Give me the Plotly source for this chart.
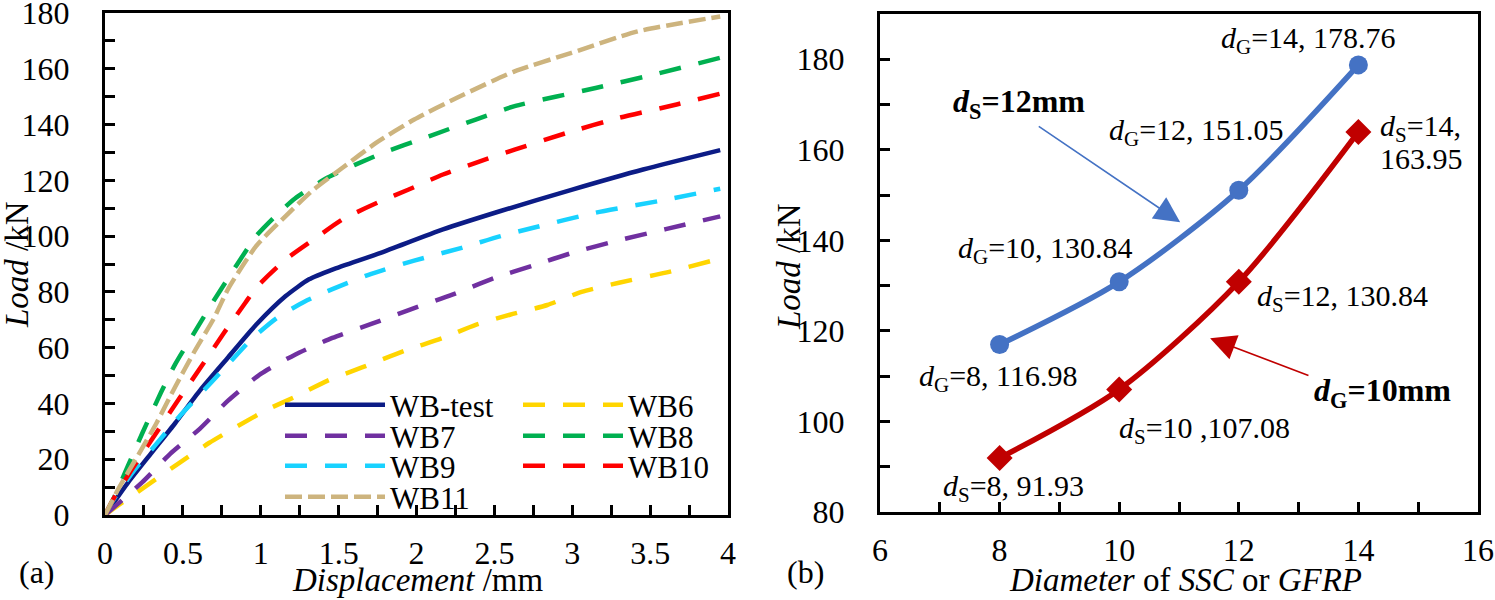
import plotly.graph_objects as go

# ---------------- data: panel (a) ----------------
wbtest_x = [0, 0.15, 0.30, 0.45, 0.61, 0.79, 0.97, 1.16, 1.31, 1.46, 1.77, 2.17, 2.54, 3.0, 3.455, 3.95]
wbtest_y = [0, 11.8, 22.4, 32.9, 44.7, 56.5, 68.2, 78.5, 84.5, 88.0, 94.0, 102.4, 109.0, 116.7, 123.9, 130.84]

wb6_x = [0, 0.086, 0.27, 0.48, 0.67, 0.85, 1.035, 1.22, 1.43, 1.65, 1.92, 2.17, 2.38, 2.6, 2.84, 3.06, 3.3, 3.6, 3.95]
wb6_y = [0, 3.5, 10.6, 18.8, 25.9, 31.8, 37.6, 42.4, 48.2, 52.9, 58.8, 63.5, 68.2, 71.8, 75.3, 80.0, 83.3, 86.9, 91.93]

wb7_x = [0, 0.24, 0.42, 0.61, 0.79, 1.0, 1.22, 1.46, 1.71, 1.95, 2.23, 2.5, 2.75, 3.0, 3.3, 3.6, 3.95]
wb7_y = [0, 11.8, 22.0, 31.0, 41.0, 50.6, 57.5, 63.5, 68.5, 73.5, 79.0, 85.0, 89.5, 94.0, 98.5, 102.5, 107.08]

wb8_x = [0, 0.055, 0.147, 0.24, 0.36, 0.45, 0.58, 0.70, 0.85, 0.97, 1.1, 1.22, 1.43, 1.77, 2.08, 2.38, 2.63, 3.15, 3.52, 3.95]
wb8_y = [0, 5.9, 17.6, 29.4, 44.0, 54.0, 66.0, 77.0, 90.0, 100.0, 107.5, 113.5, 121.0, 129.5, 135.8, 141.8, 146.6, 153.1, 157.9, 163.95]

wb9_x = [0, 0.055, 0.18, 0.33, 0.48, 0.64, 0.79, 0.94, 1.1, 1.28, 1.46, 1.71, 1.985, 2.29, 2.54, 2.75, 3.15, 3.55, 3.95]
wb9_y = [0, 5.5, 15.5, 25.5, 35.5, 45.0, 54.0, 63.0, 70.5, 76.5, 81.0, 86.5, 91.2, 95.8, 100.0, 103.0, 108.4, 112.5, 116.98]

wb10_x = [0, 0.055, 0.18, 0.33, 0.48, 0.64, 0.76, 0.9, 0.97, 1.16, 1.34, 1.525, 1.77, 1.95, 2.17, 2.38, 2.63, 2.965, 3.3, 3.67, 3.95]
wb10_y = [0, 5.9, 17.0, 29.5, 42.0, 55.0, 65.0, 76.0, 81.5, 91.6, 98.8, 106.0, 112.5, 116.7, 122.1, 126.3, 131.0, 137.0, 142.4, 147.2, 151.05]

wb11_x = [0, 0.086, 0.21, 0.33, 0.45, 0.576, 0.70, 0.79, 0.97, 1.16, 1.34, 1.525, 1.74, 1.985, 2.26, 2.63, 2.995, 3.42, 3.95]
wb11_y = [0, 9.4, 21.2, 32.9, 45.9, 58.8, 70.6, 81.0, 96.4, 107.2, 116.7, 124.5, 133.4, 141.8, 149.6, 159.1, 165.7, 173.4, 178.76]

# ---------------- data: panel (b) ----------------
diam = [8, 10, 12, 14]
load_ds12 = [116.98, 130.84, 151.05, 178.76]   # d_S = 12 mm, varying d_G
load_dg10 = [91.93, 107.08, 130.84, 163.95]    # d_G = 10 mm, varying d_S

FONT = "Liberation Serif"
TICK_SIZE = 32
TITLE_SIZE = 33

fig = go.Figure()

series = [
    ("WB-test", wbtest_x, wbtest_y, "#0C1C86", "solid", "legend"),
    ("WB6", wb6_x, wb6_y, "#FFD500", "22px,18px", "legend2"),
    ("WB7", wb7_x, wb7_y, "#7030A0", "22px,18px", "legend3"),
    ("WB8", wb8_x, wb8_y, "#00B050", "22px,18px", "legend4"),
    ("WB9", wb9_x, wb9_y, "#18D2FF", "22px,18px", "legend5"),
    ("WB10", wb10_x, wb10_y, "#FF0000", "22px,18px", "legend6"),
    ("WB11", wb11_x, wb11_y, "#CDB47E", "17px,6px", "legend7"),
]
for name, xs, ys, col, dash, lg in series:
    fig.add_trace(go.Scatter(
        x=xs, y=ys, mode="lines", name=name,
        line=dict(color=col, width=4.5, dash=dash, shape="spline", smoothing=0.6),
        xaxis="x", yaxis="y", legend=lg))

fig.add_trace(go.Scatter(
    x=diam, y=load_ds12, mode="lines+markers", showlegend=False,
    line=dict(color="#4472C4", width=5.5, shape="spline", smoothing=0.8),
    marker=dict(symbol="circle", size=19, color="#4472C4"),
    xaxis="x2", yaxis="y2"))
fig.add_trace(go.Scatter(
    x=diam, y=load_dg10, mode="lines+markers", showlegend=False,
    line=dict(color="#C00000", width=5.5, shape="spline", smoothing=0.8),
    marker=dict(symbol="diamond", size=20, color="#C00000"),
    xaxis="x2", yaxis="y2"))

minor_common = dict(ticks="inside", ticklen=10, tickwidth=3, tickcolor="black")
axis_common = dict(
    showline=True, linecolor="black", linewidth=3, mirror=True,
    ticks="inside", ticklen=10, tickwidth=3, tickcolor="black",
    showgrid=False, zeroline=False, automargin=False,
    ticklabeloverflow="allow",
    tickfont=dict(family=FONT, size=TICK_SIZE, color="black"),
)

W_PLOT = 1495 - 105 - 17
H_PLOT = 600 - 13 - 85

fig.update_layout(
    width=1495, height=600,
    margin=dict(l=105, r=17, t=13, b=85),
    paper_bgcolor="white", plot_bgcolor="white",
    font=dict(family=FONT, size=TICK_SIZE, color="black"),
    xaxis=dict(domain=[0, (728 - 105) / W_PLOT], range=[0, 4], dtick=0.5, tick0=0, anchor="y",
               minor=dict(dtick=0.25, **minor_common), ticklabelstandoff=8, **axis_common),
    yaxis=dict(domain=[0, 1], range=[0, 180], dtick=20, tick0=0, anchor="x",
               minor=dict(dtick=10, **minor_common), ticklabelstandoff=26, **axis_common),
    xaxis2=dict(domain=[(880 - 105) / W_PLOT, 1], range=[6, 16], dtick=2, tick0=6, anchor="y2",
                minor=dict(dtick=1, **minor_common), ticklabelstandoff=8, **axis_common),
    yaxis2=dict(domain=[(515 - 512) / H_PLOT, (515 - 14) / H_PLOT], range=[80, 190], dtick=20, tick0=80,
                anchor="x2", minor=dict(dtick=10, **minor_common), ticklabelstandoff=26, **axis_common),
)

def px2paper(px, py):
    return (px - 105) / W_PLOT, (515 - py) / H_PLOT

# legends: one entry each, arranged in two columns like the reference
leg_pos = {
    "legend": (280, 405), "legend3": (280, 436), "legend5": (280, 466), "legend7": (280, 497),
    "legend2": (518, 405), "legend4": (518, 436), "legend6": (518, 466),
}
for key, (px, py) in leg_pos.items():
    lx, ly = px2paper(px, py)
    fig.update_layout({key: dict(x=lx, y=ly, xanchor="left", yanchor="middle",
                                 bgcolor="rgba(0,0,0,0)", borderwidth=0,
                                 font=dict(family=FONT, size=31, color="black"),
                                 itemwidth=100)})

# axis titles and panel tags
def paper_text(px, py, text, angle=0, size=TITLE_SIZE):
    x, y = px2paper(px, py)
    fig.add_annotation(x=x, y=y, xref="paper", yref="paper", text=text, showarrow=False,
                       textangle=angle, xanchor="center", yanchor="middle",
                       font=dict(family=FONT, size=size, color="black"))

paper_text(418, 580, "<i>Displacement</i> /mm")
paper_text(1185, 580, "<i>Diameter</i> of <i>SSC</i> or <i>GFRP</i>")
paper_text(17, 264, "<i>Load</i> /kN", angle=-90)
paper_text(789, 267, "<i>Load</i> /kN", angle=-90)
paper_text(37, 572, "(a)", size=TICK_SIZE)
paper_text(805, 572, "(b)", size=TICK_SIZE)

# annotations panel (b)
ann_font = dict(family=FONT, size=30, color="black")
labels_b = [
    (13.16, 184.2, "<i>d</i><sub>G</sub>=14, 178.76", "center"),
    (11.30, 163.9, "<i>d</i><sub>G</sub>=12, 151.05", "center"),
    (8.76, 137.8, "<i>d</i><sub>G</sub>=10, 130.84", "center"),
    (7.97, 109.6, "<i>d</i><sub>G</sub>=8, 116.98", "center"),
    (14.33, 164.8, "<i>d</i><sub>S</sub>=14,", "left"),
    (14.33, 158.1, "163.95", "left"),
    (13.73, 127.2, "<i>d</i><sub>S</sub>=12, 130.84", "center"),
    (11.43, 98.1, "<i>d</i><sub>S</sub>=10 ,107.08", "center"),
    (8.24, 85.3, "<i>d</i><sub>S</sub>=8, 91.93", "center"),
]
for x, y, t, al in labels_b:
    fig.add_annotation(x=x, y=y, xref="x2", yref="y2", text=t, showarrow=False,
                       font=ann_font, xanchor=al, yanchor="middle", align="left")

fig.add_annotation(x=8.32, y=170.3, xref="x2", yref="y2", text="<b><i>d</i><sub>S</sub>=12mm</b>",
                   showarrow=False, font=dict(family=FONT, size=32, color="black"))
fig.add_annotation(x=14.41, y=106.5, xref="x2", yref="y2", text="<b><i>d</i><sub>G</sub>=10mm</b>",
                   showarrow=False, font=dict(family=FONT, size=32, color="black"))
# arrows
fig.add_annotation(x=11.02, y=144.0, ax=8.63, ay=165.4, xref="x2", yref="y2", axref="x2", ayref="y2",
                   text="", showarrow=True, arrowhead=2, arrowsize=3.2, arrowwidth=1.6, arrowcolor="#4472C4")
fig.add_annotation(x=11.52, y=118.4, ax=13.19, ay=110.0, xref="x2", yref="y2", axref="x2", ayref="y2",
                   text="", showarrow=True, arrowhead=2, arrowsize=3.2, arrowwidth=1.6, arrowcolor="#C00000")

fig.write_html("out.html", config={"displayModeBar": False},
               post_script="document.body.style.margin='0px';document.body.style.padding='0px';")
